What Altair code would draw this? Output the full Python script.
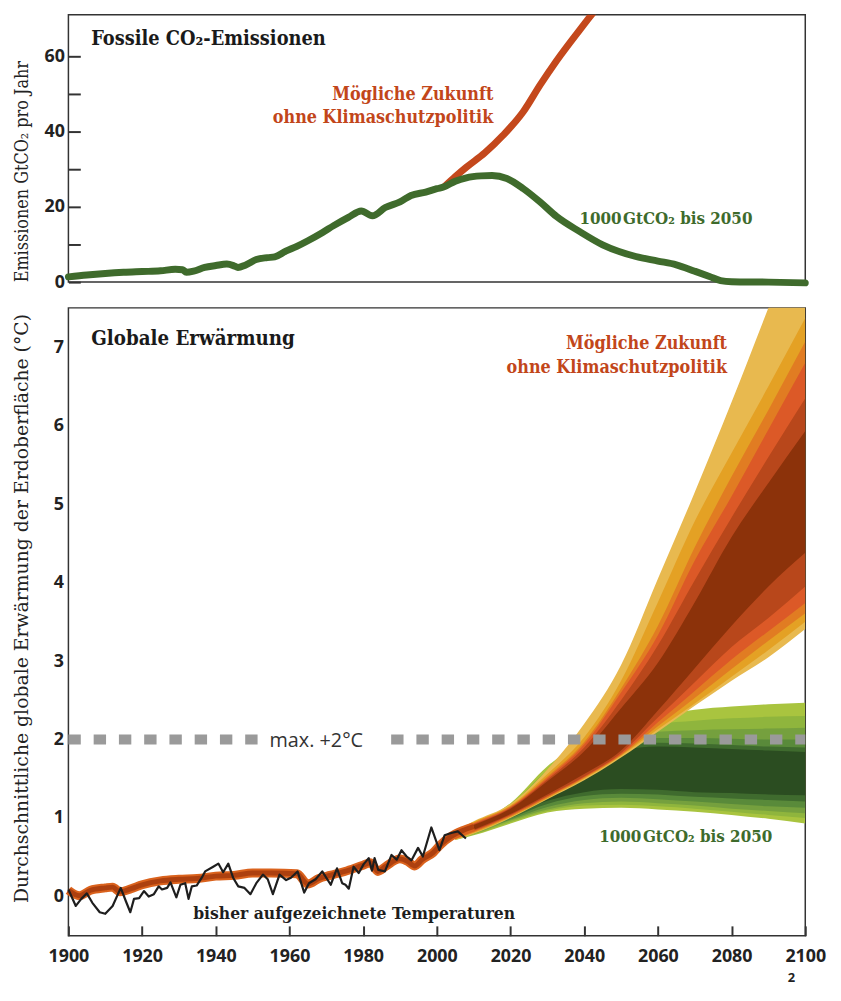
import altair as alt
import pandas as pd

# ---------------- data: top panel (GtCO2 per year) ----------------
em_years = [1900, 1905, 1910, 1915, 1920, 1925, 1929, 1931, 1932, 1934, 1937, 1940,
            1943, 1945, 1946, 1948, 1951, 1954, 1956, 1959, 1962, 1965, 1969, 1972,
            1976, 1979.5, 1982.5, 1986, 1990, 1993, 1997, 2000, 2002, 2005, 2008,
            2012, 2015, 2019, 2023.5, 2028, 2032.5, 2038.8, 2045, 2054, 2060, 2065,
            2070, 2074, 2077, 2080, 2090, 2100]
em_vals = [1.4, 1.9, 2.3, 2.6, 2.8, 3.0, 3.4, 3.3, 2.6, 2.9, 3.9, 4.4,
           4.8, 4.3, 3.9, 4.5, 6.0, 6.5, 6.7, 8.2, 9.5, 11.0, 13.2, 15.0,
           17.2, 18.9, 17.6, 19.8, 21.3, 23.0, 23.9, 24.8, 25.3, 26.8, 27.7,
           28.2, 28.3, 27.5, 24.8, 21.3, 17.4, 13.4, 9.9, 6.8, 5.6, 4.6,
           2.9, 1.5, 0.4, 0.1, 0.0, -0.2]

bau_years = [2002, 2005, 2008, 2013, 2018, 2023.5, 2028, 2032.5, 2038.8, 2042.4, 2046]
bau_vals = [25.3, 28.0, 30.5, 34.3, 39.0, 45.3, 52.3, 58.8, 67.0, 71.5, 76.0]

# ---------------- data: bottom panel (warming, deg C) ----------------
obs_years = [1900, 1902, 1903.5, 1905, 1906.5, 1908.5, 1910, 1912, 1914.2, 1915.6,
             1916.8, 1917.8, 1919.2, 1920.5, 1921.8, 1923.2, 1924.5, 1925.4, 1926.8,
             1927.7, 1929.3, 1930.4, 1931.7, 1932.6, 1933.5, 1934.8, 1936.2, 1937.1,
             1939.3, 1940.7, 1942, 1943.4, 1944.7, 1946.1, 1947.8, 1949.4, 1951,
             1952.8, 1954.1, 1955.5, 1957.3, 1959.1, 1960.4, 1962.2, 1964, 1965.3,
             1967.1, 1968.9, 1971.2, 1972.9, 1974.3, 1975.2, 1976.1, 1977.4, 1978.8,
             1980.1, 1981.5, 1982.4, 1983.1, 1984.1, 1985.9, 1987.7, 1989.1, 1990.4,
             1991.8, 1993.1, 1994.9, 1996.2, 1998.5, 2000.7, 2002.1, 2003.9, 2005.7,
             2007.9]
obs_vals = [0.09, -0.12, -0.03, 0.04, -0.08, -0.2, -0.22, -0.12, 0.11, -0.06,
            -0.2, -0.03, -0.02, 0.07, 0.0, 0.03, 0.13, 0.09, 0.11,
            0.18, -0.01, 0.15, 0.17, -0.03, 0.13, 0.14, 0.24, 0.32,
            0.38, 0.42, 0.31, 0.42, 0.24, 0.13, 0.11, 0.03, 0.17,
            0.28, 0.22, 0.03, 0.28, 0.21, 0.24, 0.32, 0.05, 0.17,
            0.22, 0.32, 0.15, 0.36, 0.17, 0.15, 0.1, 0.38, 0.3,
            0.41, 0.49, 0.33, 0.49, 0.34, 0.32, 0.53, 0.47, 0.59,
            0.51, 0.46, 0.62, 0.51, 0.88, 0.59, 0.78, 0.81, 0.83,
            0.74]

hist_years = [1900, 1903, 1906, 1910, 1912, 1914, 1917, 1920, 1925, 1930, 1935, 1940,
              1945, 1950, 1955, 1962, 1965, 1968, 1971, 1975, 1980, 1982, 1984, 1986,
              1990, 1992, 1994, 1996, 1999, 2001, 2004, 2007, 2010]
hist_vals = [0.08, 0.01, 0.08, 0.11, 0.12, 0.06, 0.1, 0.15, 0.2, 0.22, 0.23, 0.26,
             0.27, 0.3, 0.3, 0.29, 0.16, 0.23, 0.27, 0.32, 0.4, 0.43, 0.32, 0.38,
             0.48, 0.45, 0.39, 0.47, 0.56, 0.66, 0.77, 0.84, 0.89]

fan_years = [2005, 2010, 2020, 2030, 2040, 2050, 2060, 2070, 2080, 2090, 2100]

# "no climate policy" fan, outer band (1) to inner band (6)
or1_lo = [0.72, 0.80, 1.00, 1.24, 1.48, 1.77, 2.10, 2.43, 2.75, 3.05, 3.41]
or1_hi = [0.84, 0.96, 1.18, 1.62, 2.20, 2.95, 4.05, 5.15, 6.30, 7.50, 8.70]
or2_lo = [0.73, 0.81, 1.01, 1.25, 1.50, 1.79, 2.13, 2.46, 2.80, 3.14, 3.50]
or2_hi = [0.83, 0.95, 1.16, 1.56, 2.03, 2.75, 3.75, 4.78, 5.65, 6.50, 7.37]
or3_lo = [0.73, 0.82, 1.02, 1.26, 1.51, 1.80, 2.17, 2.53, 2.90, 3.26, 3.61]
or3_hi = [0.83, 0.94, 1.15, 1.53, 1.97, 2.65, 3.45, 4.45, 5.35, 6.20, 7.07]
or4_lo = [0.74, 0.83, 1.03, 1.27, 1.52, 1.81, 2.22, 2.62, 3.02, 3.38, 3.74]
or4_hi = [0.82, 0.93, 1.14, 1.51, 1.94, 2.60, 3.33, 4.28, 5.10, 5.95, 6.80]
or5_lo = [0.75, 0.84, 1.04, 1.28, 1.53, 1.83, 2.28, 2.73, 3.18, 3.55, 3.95]
or5_hi = [0.82, 0.92, 1.13, 1.49, 1.90, 2.50, 3.20, 4.03, 4.83, 5.60, 6.35]
or6_lo = [0.76, 0.85, 1.05, 1.30, 1.56, 1.86, 2.37, 2.91, 3.45, 3.95, 4.38]
or6_hi = [0.81, 0.91, 1.12, 1.47, 1.85, 2.40, 2.98, 3.75, 4.58, 5.27, 5.93]

# "1000 GtCO2 until 2050" fan, outer band (1) to inner band (6)
gr1_lo = [0.72, 0.78, 0.93, 1.07, 1.12, 1.13, 1.11, 1.08, 1.04, 0.99, 0.93]
gr1_hi = [0.82, 0.92, 1.19, 1.66, 1.98, 2.20, 2.31, 2.38, 2.42, 2.45, 2.47]
gr2_lo = [0.73, 0.79, 0.95, 1.09, 1.16, 1.17, 1.15, 1.12, 1.08, 1.04, 1.00]
gr2_hi = [0.82, 0.91, 1.17, 1.61, 1.92, 2.11, 2.20, 2.24, 2.27, 2.29, 2.30]
gr3_lo = [0.74, 0.80, 0.97, 1.11, 1.19, 1.21, 1.19, 1.16, 1.12, 1.09, 1.06]
gr3_hi = [0.81, 0.90, 1.15, 1.57, 1.86, 2.04, 2.10, 2.12, 2.13, 2.14, 2.15]
gr4_lo = [0.75, 0.82, 0.98, 1.14, 1.23, 1.26, 1.24, 1.21, 1.18, 1.15, 1.13]
gr4_hi = [0.81, 0.89, 1.13, 1.52, 1.80, 1.97, 2.02, 2.02, 2.01, 2.00, 2.00]
gr5_lo = [0.76, 0.83, 1.00, 1.18, 1.28, 1.31, 1.30, 1.27, 1.25, 1.23, 1.21]
gr5_hi = [0.80, 0.89, 1.12, 1.48, 1.75, 1.91, 1.96, 1.95, 1.93, 1.91, 1.90]
gr6_lo = [0.77, 0.85, 1.03, 1.22, 1.33, 1.37, 1.36, 1.33, 1.32, 1.30, 1.29]
gr6_hi = [0.80, 0.88, 1.10, 1.45, 1.70, 1.86, 1.91, 1.90, 1.88, 1.86, 1.84]

orange_bands = [(or1_lo, or1_hi), (or2_lo, or2_hi), (or3_lo, or3_hi),
                (or4_lo, or4_hi), (or5_lo, or5_hi), (or6_lo, or6_hi)]
green_bands = [(gr1_lo, gr1_hi), (gr2_lo, gr2_hi), (gr3_lo, gr3_hi),
               (gr4_lo, gr4_hi), (gr5_lo, gr5_hi), (gr6_lo, gr6_hi)]
orange_colors = ["#e8b94f", "#e4a124", "#e17c22", "#dc5927", "#b8471b", "#8c320a"]
green_colors = ["#a9c43f", "#8fb53d", "#75a03e", "#598a3a", "#3f6b2e", "#2b4d21"]

dash_start = [1900, 1987.6]
dash_end = [1951.5, 2100]
dash_level = [2, 2]

# ---------------- styling ----------------
SERIF_C = "DejaVu Serif Condensed, DejaVu Serif, serif"
SERIF = "DejaVu Serif, serif"
SANS = "Open Sans, DejaVu Sans, sans-serif"
W, H1, H2 = 744, 270, 634

xs = alt.Scale(domain=[1900, 2100], nice=False, zero=False)
ys_top = alt.Scale(domain=[0, 71], nice=False, zero=False)
ys_bot = alt.Scale(domain=[-0.5, 7.5], nice=False, zero=False)

x_top = alt.X('year:Q', scale=xs, axis=None)
x_bot = alt.X('year:Q', scale=xs, axis=alt.Axis(
    values=list(range(1900, 2101, 20)), format='d', offset=-10, tickSize=10,
    tickWidth=2, tickColor='#333333', domain=False, grid=False, labelPadding=12,
    labelFlush=False, labelFont=SANS, labelFontSize=18, labelFontWeight='bold',
    labelColor='#222222', title=None))

ax_top = alt.Axis(
    values=list(range(0, 61, 10)),
    labelExpr="datum.value % 20 == 0 ? datum.label : ''",
    offset=-12, tickSize=12, tickWidth=2, tickColor='#333333', domain=False,
    grid=False, labelPadding=4, labelFont=SANS, labelFontSize=18,
    labelFontWeight='bold', labelColor='#222222',
    title='Emissionen GtCO₂ pro Jahr', titleFont=SERIF_C, titleFontSize=18,
    titleFontWeight='normal', titleColor='#222222', titleAngle=270,
    titleAlign='center', titleBaseline='alphabetic', titleX=-53, titleY=158)

ax_bot = alt.Axis(
    values=list(range(0, 8)), ticks=False, tickSize=0, domain=False, grid=False,
    labelPadding=5, labelFont=SANS, labelFontSize=18, labelFontWeight='bold',
    labelColor='#222222',
    title='Durchschnittliche globale Erwärmung der Erdoberfläche (°C)',
    titleFont=SERIF, titleFontSize=19, titleFontWeight='normal',
    titleColor='#222222', titleAngle=270, titleAlign='center',
    titleBaseline='alphabetic', titleX=-41, titleY=303)


def label(txt, x, y, size, color, font=SERIF_C, weight='normal', align='left', lh=None):
    kw = dict(align=align, baseline='alphabetic', font=font, fontSize=size,
              fontWeight=weight, color=color)
    if lh:
        kw['lineBreak'] = '\n'
        kw['lineHeight'] = lh
    return alt.Chart(pd.DataFrame({'t': [txt]})).mark_text(**kw).encode(
        x=alt.value(x), y=alt.value(y), text='t:N')


# ---------------- top panel ----------------
em_df = pd.DataFrame({'year': em_years, 'v': em_vals})
bau_df = pd.DataFrame({'year': bau_years, 'v': bau_vals})

orange_line = alt.Chart(bau_df).mark_line(
    color='#c4481c', strokeWidth=7, interpolate='monotone', clip=True).encode(
    x=x_top, y=alt.Y('v:Q', scale=ys_top, axis=ax_top))
green_line = alt.Chart(em_df).mark_line(
    color='#3f6b2c', strokeWidth=7, interpolate='monotone', strokeCap='round').encode(
    x=x_top, y=alt.Y('v:Q', scale=ys_top, axis=ax_top))

top = alt.layer(
    orange_line, green_line,
    label('Fossile CO₂-Emissionen', 23, 31, 20, '#1a1a1a', weight='bold'),
    label('Mögliche Zukunft\nohne Klimaschutzpolitik', 429, 86, 18, '#c2461a',
          weight='bold', align='right', lh=23),
    label('1000\u200aGtCO₂ bis 2050', 516, 211, 17, '#3e6b2c', weight='bold'),
).properties(width=W, height=H1)

# ---------------- bottom panel ----------------
layers = []
for (lo, hi), col in zip(green_bands, green_colors):
    df = pd.DataFrame({'year': fan_years, 'lo': lo, 'hi': hi})
    layers.append(alt.Chart(df).mark_area(color=col, interpolate='monotone', clip=True).encode(
        x=x_bot, y=alt.Y('lo:Q', scale=ys_bot, axis=ax_bot), y2='hi:Q'))
for (lo, hi), col in zip(orange_bands, orange_colors):
    df = pd.DataFrame({'year': fan_years, 'lo': lo, 'hi': hi})
    layers.append(alt.Chart(df).mark_area(color=col, interpolate='monotone', clip=True).encode(
        x=x_bot, y=alt.Y('lo:Q', scale=ys_bot, axis=ax_bot), y2='hi:Q'))

hist_df = pd.DataFrame({'year': hist_years, 'v': hist_vals})
layers.append(alt.Chart(hist_df).mark_line(
    color='#da621d', strokeWidth=9, interpolate='monotone', strokeCap='butt').encode(
    x=x_bot, y=alt.Y('v:Q', scale=ys_bot, axis=ax_bot)))
layers.append(alt.Chart(hist_df).mark_line(
    color='#ad400f', strokeWidth=5, interpolate='monotone', strokeCap='butt').encode(
    x=x_bot, y=alt.Y('v:Q', scale=ys_bot, axis=ax_bot)))

obs_df = pd.DataFrame({'year': obs_years, 'v': obs_vals})
layers.append(alt.Chart(obs_df).mark_line(
    color='#1e1e1e', strokeWidth=2.2, interpolate='linear', strokeJoin='round').encode(
    x=x_bot, y=alt.Y('v:Q', scale=ys_bot, axis=ax_bot)))

dash_df = pd.DataFrame({'year': dash_start, 'year2': dash_end, 'v': dash_level})
layers.append(alt.Chart(dash_df).mark_rule(
    color='#9a9a9a', strokeWidth=10, strokeDash=[12.5, 13]).encode(
    x=x_bot, x2='year2:Q', y=alt.Y('v:Q', scale=ys_bot, axis=ax_bot)))

layers += [
    label('Globale Erwärmung', 23, 37, 20.5, '#1a1a1a', weight='bold'),
    label('Mögliche Zukunft\nohne Klimaschutzpolitik', 665, 42, 18, '#c2461a',
          weight='bold', align='right', lh=23.5),
    label('1000\u200aGtCO₂ bis 2050', 536, 539, 17, '#3e6b2c', weight='bold'),
    label('max. +2°C', 203, 443, 20, '#333333', font=SANS),
    label('bisher aufgezeichnete Temperaturen', 126, 617, 17.5, '#1e1e1e', weight='bold'),
    label('2', 730, 681, 13, '#222222', font=SANS, weight='bold', align='center'),
]

bottom = alt.layer(*layers).properties(width=W, height=H2)

chart = alt.vconcat(top, bottom, spacing=26, bounds='flush').properties(
    padding={'left': 4, 'top': 1, 'right': 6, 'bottom': 2}
).configure_view(stroke='#333333', strokeWidth=1.5)

chart.save("out.html", embed_options={"renderer": "svg", "actions": False})
